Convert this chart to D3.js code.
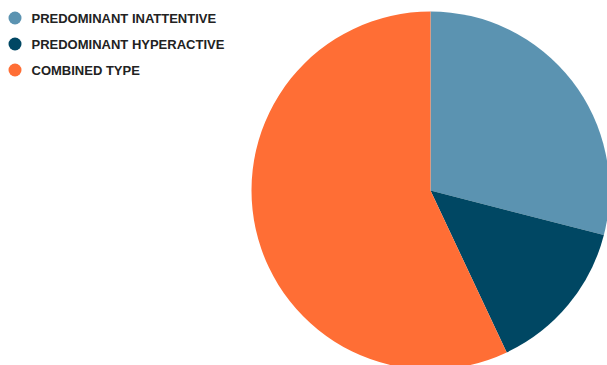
<!DOCTYPE html>
<html>
<head>
<meta charset="utf-8">
<script src="https://cdn.jsdelivr.net/npm/d3@7"></script>
<style>
  body { margin: 0; background: #fff; }
  svg { display: block; }
</style>
</head>
<body>
<div id="chart"></div>
<script>
var categories = ["PREDOMINANT INATTENTIVE", "PREDOMINANT HYPERACTIVE", "COMBINED TYPE"];
var values = [29, 14, 57];
var colors = ["#5b93b1", "#004763", "#ff6e35"];

var width = 607,
  height = 365,
  cx = 430.5,
  cy = 190.5,
  radius = 179;

var svg = d3.select("#chart").append("svg")
  .attr("width", width)
  .attr("height", height);

var data = categories.map(function (c, i) {
  return { name: c, value: values[i], color: colors[i] };
});

var pie = d3.pie().sort(null).value(function (d) { return d.value; });
var arc = d3.arc().innerRadius(0).outerRadius(radius);

svg.append("g")
  .attr("transform", "translate(" + cx + "," + cy + ")")
  .selectAll("path")
  .data(pie(data))
  .enter()
  .append("path")
  .attr("d", arc)
  .style("fill", function (d) { return d.data.color; });

// legend
var legend = svg.append("g").attr("transform", "translate(15,18)");
var item = legend.selectAll("g")
  .data(data)
  .enter()
  .append("g")
  .attr("transform", function (d, i) { return "translate(0," + i * 26 + ")"; });

item.append("circle")
  .attr("r", 6.5)
  .style("fill", function (d) { return d.color; });

item.append("text")
  .attr("x", 16.5)
  .attr("dy", "0.35em")
  .text(function (d) { return d.name; })
  .style("font-family", "'Liberation Sans', Arial, sans-serif")
  .style("font-weight", "bold")
  .style("font-size", "13px")
  .style("fill", "#222");
</script>
</body>
</html>
